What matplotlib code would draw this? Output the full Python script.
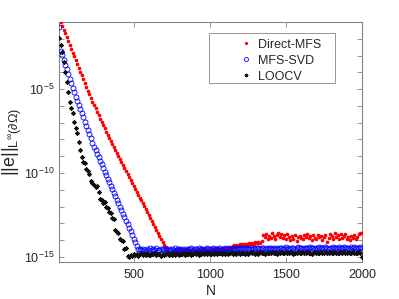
import numpy as np
import matplotlib
matplotlib.use("Agg")
import matplotlib.pyplot as plt
from matplotlib.ticker import FixedLocator, FixedFormatter, NullFormatter
from matplotlib.patches import Rectangle

plt.rcParams['font.family'] = ['Liberation Sans', 'DejaVu Sans']
plt.rcParams['mathtext.fontset'] = 'custom'
plt.rcParams['mathtext.rm'] = 'Liberation Sans'
plt.rcParams['mathtext.it'] = 'Liberation Sans:italic'
plt.rcParams['mathtext.bf'] = 'Liberation Sans:bold'

# Number of points N (sampled every 10)
N = list(range(10, 2001, 10))

# log10 of the maximum boundary error for each method
direct_mfs_log = [
    -0.77, -1.00, -1.23, -1.45, -1.68, -1.91, -2.14, -2.36, -2.59, -2.82,
    -3.04, -3.27, -3.50, -3.72, -3.95, -4.18, -4.41, -4.63, -4.86, -5.09,
    -5.31, -5.53, -5.74, -5.95, -6.15, -6.35, -6.55, -6.75, -6.95, -7.14,
    -7.34, -7.53, -7.72, -7.91, -8.09, -8.27, -8.45, -8.63, -8.81, -8.99,
    -9.17, -9.35, -9.53, -9.71, -9.88, -10.06, -10.23, -10.41, -10.58, -10.76,
    -10.93, -11.11, -11.28, -11.46, -11.63, -11.81, -11.98, -12.16, -12.33, -12.51,
    -12.68, -12.86, -13.03, -13.21, -13.38, -13.56, -13.73, -13.91, -14.08, -14.26,
    -14.43, -14.61, -14.78,
    -14.80, -14.70, -14.62, -14.58, -14.65, -14.60, -14.55, -14.62, -14.58, -14.66,
    -14.60, -14.57, -14.63, -14.59, -14.68, -14.61, -14.56, -14.64, -14.70, -14.58,
    -14.62, -14.55, -14.66, -14.60, -14.75, -14.59, -14.57, -14.63, -14.55, -14.60,
    -14.52, -14.58, -14.50, -14.56, -14.49, -14.53, -14.47, -14.50, -14.44, -14.40,
    -14.46, -14.36, -14.30, -14.38, -14.27, -14.33, -14.25, -14.30, -14.22, -14.28,
    -14.20, -14.26, -14.18, -14.24, -14.15, -14.21, -14.12, -14.18, -14.08, -14.14,
    -14.05, -13.70, -13.82, -13.65, -13.90, -13.75, -13.85, -13.60, -13.78, -13.92,
    -13.70, -13.55, -13.80, -13.66, -13.88, -13.72, -13.95, -13.64, -13.82, -14.00,
    -13.76, -13.90, -13.68, -14.02, -13.80, -13.74, -13.86, -13.95, -13.70, -13.84,
    -13.62, -13.88, -13.78, -13.96, -13.72, -13.85, -13.90, -13.68, -13.80, -13.75,
    -13.98, -13.82, -13.70, -14.08, -13.86, -13.64, -13.78, -13.92, -13.60, -13.82,
    -13.72, -13.95, -13.66, -13.85, -13.78, -13.62, -13.90, -13.80, -13.98, -13.74,
    -13.86, -13.70, -13.92, -13.80, -13.66, -13.58, -13.55,
]

mfs_svd_log = [
    -1.30, -2.70, -2.98, -3.26, -3.54, -3.82, -4.10, -4.38, -4.66, -4.94,
    -5.19, -5.44, -5.69, -5.94, -6.19, -6.44, -6.69, -6.94, -7.19, -7.44,
    -7.69, -7.94, -8.19, -8.44, -8.65, -8.86, -9.07, -9.28, -9.49, -9.70,
    -9.91, -10.12, -10.33, -10.54, -10.75, -10.96, -11.17, -11.38, -11.59, -11.80,
    -12.01, -12.22, -12.43, -12.64, -12.85, -13.06, -13.27, -13.48, -13.69, -13.90,
    -14.11, -14.32, -14.50,
    -14.55, -14.60, -14.50, -14.58, -14.62, -14.53, -14.57, -14.49, -14.60, -14.54,
    -14.58, -14.47, -14.56, -14.61, -14.52, -14.55, -14.59, -14.50, -14.57, -14.53,
    -14.60, -14.52, -14.56, -14.49, -14.58, -14.54, -14.51, -14.59, -14.53, -14.56,
    -14.50, -14.57, -14.52, -14.55, -14.48, -14.58, -14.53, -14.51, -14.56, -14.49,
    -14.54, -14.50, -14.57, -14.52, -14.47, -14.55, -14.51, -14.56, -14.49, -14.53,
    -14.50, -14.55, -14.48, -14.52, -14.57, -14.50, -14.46, -14.53, -14.49, -14.55,
    -14.51, -14.47, -14.54, -14.50, -14.45, -14.52, -14.49, -14.55, -14.48, -14.51,
    -14.47, -14.53, -14.50, -14.45, -14.52, -14.48, -14.54, -14.49, -14.46, -14.51,
    -14.48, -14.44, -14.51, -14.47, -14.53, -14.49, -14.45, -14.50, -14.47, -14.52,
    -14.46, -14.50, -14.44, -14.49, -14.52, -14.47, -14.43, -14.50, -14.46, -14.51,
    -14.47, -14.44, -14.50, -14.46, -14.41, -14.48, -14.45, -14.50, -14.44, -14.47,
    -14.49, -14.45, -14.42, -14.48, -14.46, -14.50, -14.44, -14.47, -14.43, -14.49,
    -14.45, -14.48, -14.43, -14.47, -14.50, -14.44, -14.46, -14.42, -14.48, -14.45,
    -14.47, -14.43, -14.49, -14.45, -14.42, -14.48, -14.44, -14.46, -14.50, -14.43,
    -14.46, -14.42, -14.48, -14.44, -14.47, -14.43, -14.45,
]

loocv_log = [
    -1.95, -2.35, -2.80, -3.40, -3.95, -4.55, -5.15, -5.75, -6.10, -6.40,
    -6.95, -7.30, -7.60, -8.15, -8.60, -9.05, -9.35, -9.40, -9.75, -9.85,
    -10.05, -10.45, -10.60, -10.70, -10.85, -10.80, -11.15, -11.55, -11.60, -11.80,
    -11.75, -12.00, -12.10, -12.30, -12.40, -12.65, -12.75, -13.40, -13.50, -13.60,
    -13.90, -14.00, -14.05, -14.50, -14.45, -14.95, -15.00, -14.90, -14.95, -14.85,
    -14.88, -14.80, -14.92, -14.85, -14.78, -14.90, -14.83, -14.87, -14.79, -14.86,
    -14.91, -14.82, -14.85, -14.77, -14.89, -14.84, -14.80, -14.93, -14.81, -14.86,
    -14.83, -14.78, -14.88, -14.82, -14.86, -14.79, -14.90, -14.84, -14.81, -14.87,
    -14.80, -14.85, -14.77, -14.89, -14.82, -14.84, -14.79, -14.86, -14.81, -14.76,
    -14.83, -14.78, -14.86, -14.80, -14.75, -14.84, -14.79, -14.82, -14.77, -14.85,
    -14.80, -14.76, -14.83, -14.78, -14.81, -14.74, -14.79, -14.84, -14.77, -14.80,
    -14.76, -14.82, -14.78, -14.73, -14.80, -14.77, -14.83, -14.75, -14.79, -14.81,
    -14.77, -14.74, -14.80, -14.76, -14.82, -14.78, -14.72, -14.79, -14.75, -14.81,
    -14.76, -14.80, -14.73, -14.78, -14.75, -14.81, -14.77, -14.74, -14.79, -14.76,
    -14.72, -14.78, -14.75, -14.80, -14.74, -14.77, -14.71, -14.79, -14.76, -14.73,
    -14.78, -14.75, -14.72, -14.77, -14.80, -14.74, -14.76, -14.71, -14.78, -14.75,
    -14.73, -14.79, -14.76, -14.72, -14.77, -14.74, -14.80, -14.75, -14.71, -14.78,
    -14.74, -14.77, -14.72, -14.79, -14.75, -14.73, -14.78, -14.76, -14.71, -14.77,
    -14.75, -14.72, -14.78, -14.74, -14.76, -14.71, -14.79, -14.73, -14.77, -14.74,
    -14.72, -14.78, -14.75, -14.71, -14.77, -14.74, -14.76, -14.72, -14.75, -15.02,
]

labels = ['Direct-MFS', 'MFS-SVD', 'LOOCV']
xticks = [500, 1000, 1500, 2000]
ytick_exps = [-15, -10, -5]

direct_mfs = 10.0 ** np.array(direct_mfs_log)
mfs_svd = 10.0 ** np.array(mfs_svd_log)
loocv = 10.0 ** np.array(loocv_log)

W, H = 399, 299
fig = plt.figure(figsize=(W/100, H/100), dpi=100)
ax = fig.add_axes([59/W, 1-262/H, (362-59)/W, (262-22)/H])

ax.semilogy(N, direct_mfs, linestyle='none', marker='.', color=(1, 0, 0),
            markersize=3.2, label=labels[0], zorder=3)
ax.semilogy(N, mfs_svd, linestyle='none', marker='o', markerfacecolor='none',
            markeredgecolor=(0, 0, 1), markeredgewidth=0.6, markersize=3.6,
            label=labels[1], zorder=4)
ax.semilogy(N, loocv, linestyle='none', marker=(8, 2, 0), color='#111111',
            markersize=3.3, markeredgewidth=0.5, label=labels[2], zorder=5)

ax.set_xlim(10, 2000)
ax.set_ylim(10**-15.3, 1e-1)

axis_gray = '#868686'
text_col = '#262626'
for s in ax.spines.values():
    s.set_color(axis_gray)
    s.set_linewidth(0.8)

ax.xaxis.set_major_locator(FixedLocator(xticks))
ax.set_xticklabels([str(v) for v in xticks])
ax.yaxis.set_major_locator(FixedLocator([10.0**e for e in ytick_exps]))
ax.yaxis.set_major_formatter(FixedFormatter([r'10$^{%d}$' % e for e in ytick_exps]))
ax.yaxis.set_minor_locator(FixedLocator([10.0**e for e in range(-15, 0)]))
ax.yaxis.set_minor_formatter(NullFormatter())
ax.xaxis.set_minor_locator(FixedLocator([]))

ax.tick_params(axis='both', which='both', direction='in', top=True, right=True,
               color=axis_gray, width=0.6, labelcolor=text_col, labelsize=9)
ax.tick_params(axis='both', which='major', length=3.5)
ax.tick_params(axis='y', which='minor', length=3.5)
ax.tick_params(axis='x', which='major', pad=5)
ax.tick_params(axis='y', which='major', pad=3)

ax.set_xlabel('N', fontsize=10, color=text_col, labelpad=2)
ax.set_ylabel(r'$\mathrm{||e||}_{\mathrm{L}^{\infty}(\partial\Omega)}$', fontsize=13,
              color=text_col, labelpad=0)

# Legend frame (MATLAB style box), drawn in figure coordinates
frame = Rectangle((209/W, 1-83/H), (335-209)/W, (83-33)/H, transform=fig.transFigure,
                  facecolor='white', edgecolor=axis_gray, linewidth=0.6,
                  zorder=6, clip_on=False)
ax.add_patch(frame)

leg = ax.legend(loc='upper left', bbox_to_anchor=(240/W, 1-38.5/H),
                bbox_transform=fig.transFigure, borderaxespad=0, borderpad=0,
                fontsize=9, handlelength=1.0, handletextpad=0.45,
                labelspacing=0.33, markerscale=0.8, frameon=False)
leg.set_zorder(7)
for t in leg.get_texts():
    t.set_color(text_col)

fig.savefig('out.png', dpi=100)
